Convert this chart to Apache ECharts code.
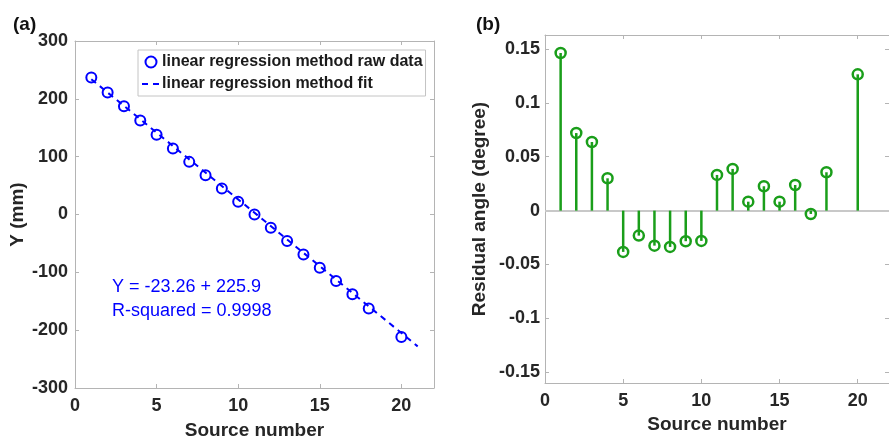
<!DOCTYPE html>
<html>
<head>
<meta charset="utf-8">
<script src="https://cdn.jsdelivr.net/npm/echarts@6/dist/echarts.min.js"></script>
<style>
html,body{margin:0;padding:0;background:#fff;}
#chart{width:889px;height:445px;}
</style>
</head>
<body>
<div id="chart"></div>
<script>
// ---- data ----
const sourceNumbers = [1,2,3,4,5,6,7,8,9,10,11,12,13,14,15,16,17,18,20];
const rawY = [236.7,211,187,162.5,138,114,91,68,45,22,0,-23,-45.7,-69,-92,-115,-138,-162.6,-211.7];
const fitX = [1,21];
const fitY = [234,-228];
const residuals = [0.1463,0.072,0.0637,0.030,-0.0383,-0.0232,-0.0325,-0.0337,-0.0284,-0.0281,0.0331,0.0387,0.0083,0.0226,0.0083,0.0238,-0.0031,0.0356,0.1265];
const xTicks = [0,5,10,15,20];
const yTicksA = [-300,-200,-100,0,100,200,300];
const yTicksB = [-0.15,-0.1,-0.05,0,0.05,0.1,0.15];
const legendNames = ['linear regression method raw data','linear regression method fit'];
const equationText = ['Y = -23.26 + 225.9','R-squared = 0.9998'];

const FONT = '"Liberation Sans", Arial, sans-serif';
const LABEL = '#262626';
const AXIS = '#b4b4b4';
const BLUE = '#0000ff';
const GREEN = '#1a9e1a';

function xAxisDef(gridIndex, pos, show, name, nameGap){
  return {
    type:'value', gridIndex, position:pos, min:0, max:22,
    name: show ? name : '', nameLocation:'middle', nameGap: nameGap,
    nameTextStyle:{fontFamily:FONT,fontWeight:'bold',fontSize:19,color:LABEL},
    axisLine:{show:true,onZero:false,lineStyle:{color:AXIS,width:1}},
    axisTick:{show:true,inside:true,length:4,customValues:xTicks,lineStyle:{color:AXIS}},
    axisLabel:{show:show,customValues:xTicks,margin:9,fontFamily:FONT,fontWeight:'bold',fontSize:18,color:LABEL},
    splitLine:{show:false}
  };
}
function yAxisDef(gridIndex, pos, show, min, max, ticks, name, nameGap, margin){
  return {
    type:'value', gridIndex, position:pos, min, max,
    name: show ? name : '', nameLocation:'middle', nameGap: nameGap,
    nameTextStyle:{fontFamily:FONT,fontWeight:'bold',fontSize:19,color:LABEL},
    axisLine:{show:true,onZero:false,lineStyle:{color:AXIS,width:1}},
    axisTick:{show:true,inside:true,length:4,customValues:ticks,lineStyle:{color:AXIS}},
    axisLabel:{show:show,customValues:ticks,margin:margin,fontFamily:FONT,fontWeight:'bold',fontSize:18,color:LABEL},
    splitLine:{show:false}
  };
}

const chart = echarts.init(document.getElementById('chart'), null, {renderer:'canvas'});
chart.setOption({
  backgroundColor:'#ffffff',
  animation:false,
  title:[
    {text:'(a)', left:8, top:10, textStyle:{fontFamily:FONT,fontWeight:'bold',fontSize:19,color:'#111'}},
    {text:'(b)', left:471, top:10, textStyle:{fontFamily:FONT,fontWeight:'bold',fontSize:19,color:'#111'}}
  ],
  grid:[
    {left:75, top:41, width:359, height:351},
    {left:545, top:35, width:351, height:348}
  ],
  xAxis:[
    xAxisDef(0,'bottom',true,'Source number',33),
    xAxisDef(0,'top',false,'',0),
    xAxisDef(1,'bottom',true,'Source number',30),
    xAxisDef(1,'top',false,'',0)
  ],
  yAxis:[
    yAxisDef(0,'left',true,-300,300,yTicksA,'Y (mm)',48,7),
    yAxisDef(0,'right',false,-300,300,yTicksA,'',0,0),
    yAxisDef(1,'left',true,-0.16,0.163,yTicksB,'Residual angle (degree)',56,5),
    yAxisDef(1,'right',false,-0.16,0.163,yTicksB,'',0,0)
  ],
  legend:{
    left:138, top:50, orient:'vertical',
    padding:[4,3,4,3], itemGap:6, itemWidth:18, itemHeight:11,
    backgroundColor:'#ffffff', borderColor:'#c4c4c4', borderWidth:1,
    textStyle:{fontFamily:FONT,fontWeight:'bold',fontSize:16,color:'#1a1a1a',padding:[0,0,0,-3]},
    data:[
      {name:legendNames[0], icon:'emptyCircle', itemStyle:{color:BLUE,borderColor:BLUE,borderWidth:2}},
      {name:legendNames[1], itemStyle:{color:'rgba(0,0,0,0)',borderColor:'rgba(0,0,0,0)',borderWidth:0},
       lineStyle:{color:BLUE,width:2,type:[6,5]}}
    ]
  },
  graphic:[
    {type:'text', left:112, top:278, style:{text:equationText[0], font:'18px '+FONT, fill:BLUE}},
    {type:'text', left:112, top:302, style:{text:equationText[1], font:'18px '+FONT, fill:BLUE}}
  ],
  series:[
    {
      name:legendNames[1], type:'line', xAxisIndex:0, yAxisIndex:0,
      data:fitX.map((x,i)=>[x,fitY[i]]),
      showSymbol:false, symbol:'none',
      lineStyle:{color:BLUE,width:2,type:[6,5]}, itemStyle:{color:BLUE}, z:2
    },
    {
      name:legendNames[0], type:'scatter', xAxisIndex:0, yAxisIndex:0,
      data:sourceNumbers.map((x,i)=>[x,rawY[i]]),
      symbol:'circle', symbolSize:10,
      itemStyle:{color:'rgba(255,255,255,0)',borderColor:BLUE,borderWidth:2, opacity:1}, z:3
    },
    {
      name:'stem', type:'bar', xAxisIndex:2, yAxisIndex:2,
      data:sourceNumbers.map((x,i)=>[x,residuals[i]]),
      barWidth:2.5, itemStyle:{color:GREEN}, z:3,
      markLine:{
        silent:true, symbol:'none', label:{show:false},
        lineStyle:{color:'#c8c8c8',width:2,type:'solid'},
        data:[{yAxis:0}], z:1
      }
    },
    {
      name:'residual', type:'scatter', xAxisIndex:2, yAxisIndex:2,
      data:sourceNumbers.map((x,i)=>[x,residuals[i]]),
      symbol:'circle', symbolSize:10,
      itemStyle:{color:'rgba(255,255,255,0)',borderColor:GREEN,borderWidth:2.5,opacity:1}, z:4
    }
  ]
});
</script>
</body>
</html>
